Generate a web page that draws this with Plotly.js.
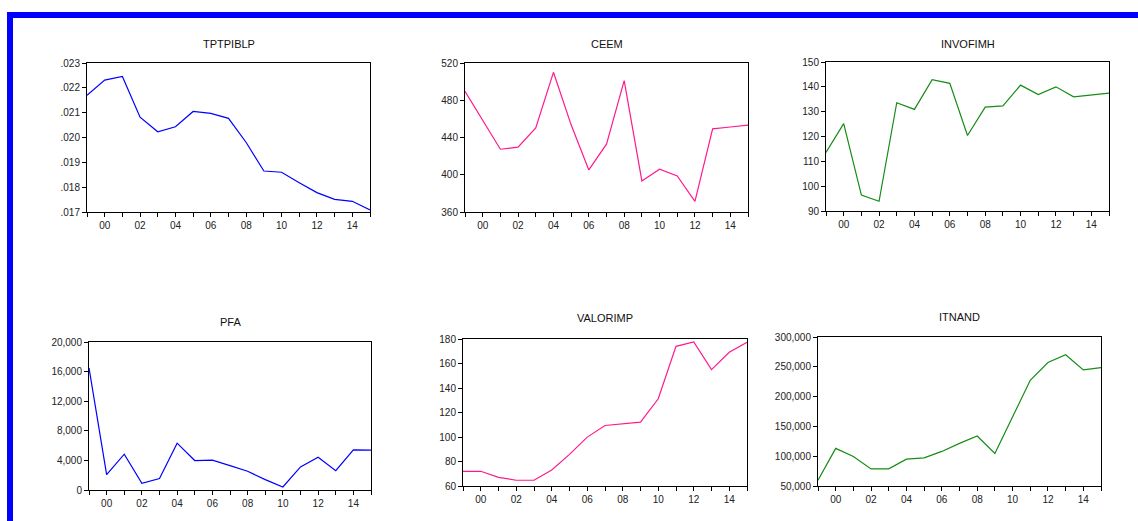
<!DOCTYPE html>
<html>
<head>
<meta charset="utf-8">
<script src="https://cdn.plot.ly/plotly-3.0.1.min.js"></script>
<style>
  html, body { margin: 0; padding: 0; background: #ffffff; }
  #chart { width: 1138px; height: 521px; }
</style>
</head>
<body>
<div id="chart"></div>
<script>
// Annual observations 1999-2015
const years = [1999, 2000, 2001, 2002, 2003, 2004, 2005, 2006, 2007, 2008, 2009, 2010, 2011, 2012, 2013, 2014, 2015];
const yearLabels = ["", "00", "", "02", "", "04", "", "06", "", "08", "", "10", "", "12", "", "14", ""];

const tptpiblp = [0.02170, 0.02231, 0.02246, 0.02082, 0.02023, 0.02043, 0.02105, 0.02097, 0.02077, 0.01980, 0.01865, 0.01860, 0.01818, 0.01778, 0.01751, 0.01743, 0.01708];
const ceem = [489.5, 459, 427.4, 429.6, 450.4, 510, 453.6, 405.2, 432.8, 501, 393.4, 406, 398.7, 371.5, 449.3, 451.3, 453.3];
const invofimh = [113.6, 125.2, 96.4, 93.9, 133.6, 130.9, 142.9, 141.4, 120.4, 131.8, 132.3, 140.7, 136.9, 140.0, 136.0, 136.7, 137.5];
const pfa = [16500, 2080, 4840, 905, 1540, 6330, 3980, 4030, 3300, 2530, 1400, 410, 3120, 4430, 2620, 5430, 5390];
const valorimp = [72.0, 72.0, 67.1, 64.7, 64.7, 73.1, 85.8, 99.9, 109.4, 111.1, 112.2, 131.2, 174.0, 177.6, 155.0, 169.1, 177.3];
const itnand = [59600, 113100, 99500, 78700, 78700, 95000, 97300, 108000, 121500, 133900, 104600, 165400, 227400, 257200, 270200, 244800, 248800];

// Vertical axis ticks for each panel
const tickTptpiblp = [0.017, 0.018, 0.019, 0.020, 0.021, 0.022, 0.023];
const labelTptpiblp = [".017", ".018", ".019", ".020", ".021", ".022", ".023"];
const tickCeem = [360, 400, 440, 480, 520];
const tickInvofimh = [90, 100, 110, 120, 130, 140, 150];
const tickPfa = [0, 4000, 8000, 12000, 16000, 20000];
const labelPfa = ["0", "4,000", "8,000", "12,000", "16,000", "20,000"];
const tickValorimp = [60, 80, 100, 120, 140, 160, 180];
const tickItnand = [50000, 100000, 150000, 200000, 250000, 300000];
const labelItnand = ["50,000", "100,000", "150,000", "200,000", "250,000", "300,000"];

const W = 1138, H = 521;
const BLUE = "#0000ff", PINK = "#ff1a8c", GREEN = "#168c16";

// Pixel boxes of the six panels: [left, right, top, bottom]
const panels = [
  { name: "TPTPIBLP", data: tptpiblp, color: BLUE,  box: [87, 370, 63, 212],  ticks: tickTptpiblp, labels: labelTptpiblp, titleY: 44 },
  { name: "CEEM",     data: ceem,     color: PINK,  box: [465, 748, 63, 212], ticks: tickCeem, labels: tickCeem.map(String), titleY: 44 },
  { name: "INVOFIMH", data: invofimh, color: GREEN, box: [826, 1109, 62, 211], ticks: tickInvofimh, labels: tickInvofimh.map(String), titleY: 44 },
  { name: "PFA",      data: pfa,      color: BLUE,  box: [89, 371, 342, 490], ticks: tickPfa, labels: labelPfa, titleY: 322 },
  { name: "VALORIMP", data: valorimp, color: PINK,  box: [463, 747, 339, 486], ticks: tickValorimp, labels: tickValorimp.map(String), titleY: 318 },
  { name: "ITNAND",   data: itnand,   color: GREEN, box: [818, 1101, 337, 486], ticks: tickItnand, labels: labelItnand, titleY: 317 }
];

const font = { family: "Arial, 'Liberation Sans', sans-serif", size: 10, color: "#222222" };

const traces = [];
const layout = {
  width: W, height: H,
  margin: { l: 0, r: 0, t: 0, b: 0 },
  paper_bgcolor: "#ffffff",
  plot_bgcolor: "#ffffff",
  showlegend: false,
  font: font,
  annotations: [],
  shapes: [
    // blue outer frame (top and left edges)
    { type: "rect", xref: "paper", yref: "paper",
      x0: 10 / W, x1: 1.05, y0: -0.05, y1: 1 - 15 / H,
      line: { color: BLUE, width: 6 }, fillcolor: "rgba(0,0,0,0)" }
  ]
};

panels.forEach((p, i) => {
  const n = i + 1;
  const xa = "xaxis" + (n === 1 ? "" : n);
  const ya = "yaxis" + (n === 1 ? "" : n);
  traces.push({
    x: years, y: p.data,
    type: "scatter", mode: "lines",
    line: { color: p.color, width: 1.2 },
    xaxis: "x" + (n === 1 ? "" : n),
    yaxis: "y" + (n === 1 ? "" : n),
    hoverinfo: "x+y"
  });
  const [l, r, t, b] = p.box;
  layout[xa] = {
    domain: [l / W, r / W],
    anchor: "y" + (n === 1 ? "" : n),
    range: [years[0], years[years.length - 1]],
    tickmode: "array",
    tickvals: years,
    ticktext: yearLabels,
    ticks: "outside", ticklen: 4, tickcolor: "#000000", tickwidth: 1,
    showline: true, mirror: true, linecolor: "#000000", linewidth: 1,
    showgrid: false, zeroline: false,
    tickfont: font
  };
  layout[ya] = {
    domain: [1 - b / H, 1 - t / H],
    anchor: "x" + (n === 1 ? "" : n),
    range: [p.ticks[0], p.ticks[p.ticks.length - 1]],
    tickmode: "array",
    tickvals: p.ticks,
    ticktext: p.labels,
    ticks: "outside", ticklen: 4, tickcolor: "#000000", tickwidth: 1,
    showline: true, mirror: true, linecolor: "#000000", linewidth: 1,
    showgrid: false, zeroline: false,
    tickfont: font
  };
  layout.annotations.push({
    text: p.name, xref: "paper", yref: "paper",
    x: ((l + r) / 2) / W, y: 1 - p.titleY / H,
    xanchor: "center", yanchor: "middle", showarrow: false,
    font: { family: "Arial, 'Liberation Sans', sans-serif", size: 11, color: "#111111" }
  });
});

Plotly.newPlot("chart", traces, layout, { displayModeBar: false, staticPlot: true });
</script>
</body>
</html>
